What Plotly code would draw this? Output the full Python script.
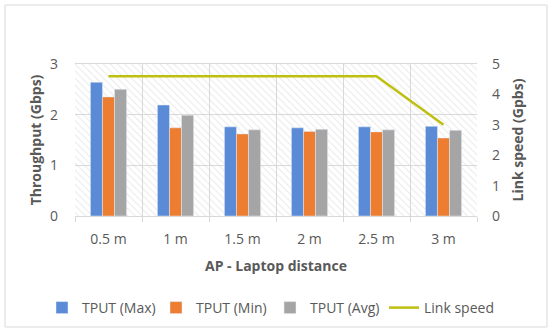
import plotly.graph_objects as go

categories = ["0.5 m", "1 m", "1.5 m", "2 m", "2.5 m", "3 m"]
tput_max = [2.64, 2.19, 1.76, 1.74, 1.76, 1.77]
tput_min = [2.35, 1.74, 1.62, 1.67, 1.66, 1.54]
tput_avg = [2.50, 1.99, 1.70, 1.71, 1.70, 1.69]
link_speed = [4.6, 4.6, 4.6, 4.6, 4.6, 3.0]

W, H = 550, 334
L, R, T, B = 75, 73, 64, 118
pw, ph = W - L - R, H - T - B

FONT = "Open Sans"
GRAY_TXT = "#595959"
GRID = "#d9d9d9"

fig = go.Figure()

# hatched plot-area background (base subplot, hidden axes)
fig.add_trace(go.Bar(
    x=[0.5], y=[1], width=[1], xaxis="x", yaxis="y",
    marker=dict(color="rgba(0,0,0,0)", line=dict(width=0),
                pattern=dict(shape="\\", fgcolor="#cfcfcf", bgcolor="rgba(0,0,0,0)",
                             size=5, solidity=0.18)),
    showlegend=False, hoverinfo="skip"))

fig.add_trace(go.Bar(x=categories, y=tput_max, name="TPUT (Max)", marker_color="#5B8BD6",
                     xaxis="x2", yaxis="y2"))
fig.add_trace(go.Bar(x=categories, y=tput_min, name="TPUT (Min)", marker_color="#ED7D31",
                     xaxis="x2", yaxis="y2"))
fig.add_trace(go.Bar(x=categories, y=tput_avg, name="TPUT (Avg)", marker_color="#A5A5A5",
                     xaxis="x2", yaxis="y2"))
fig.add_trace(go.Scatter(x=categories, y=link_speed, name="Link speed", mode="lines",
                         line=dict(color="#BFBF10", width=2.5), xaxis="x2", yaxis="y3"))

# outer chart border in paper coords
def px_x(p):
    return (p - L) / pw
def px_y(p):
    return (H - B - p) / ph

fig.update_layout(
    width=W, height=H,
    margin=dict(l=L, r=R, t=T, b=B, autoexpand=False),
    paper_bgcolor="white", plot_bgcolor="white",
    font=dict(family=FONT, size=14, color=GRAY_TXT),
    barmode="group", bargap=0.46, bargroupgap=0,
    showlegend=True,
    legend=dict(orientation="h", xref="paper", x=px_x(42), xanchor="left",
                yref="paper", y=px_y(308), yanchor="middle",
                font=dict(size=14, color=GRAY_TXT),
                traceorder="normal", itemwidth=30,
                entrywidth=69, entrywidthmode="pixels"),
    xaxis=dict(range=[0, 1], visible=False, fixedrange=True),
    yaxis=dict(range=[0, 1], visible=False, fixedrange=True),
    xaxis2=dict(overlaying="x", type="category", tickson="boundaries",
                showgrid=True, gridcolor=GRID, gridwidth=1,
                ticks="outside", ticklen=5, tickcolor=GRID,
                showline=True, linecolor=GRID, mirror=True, tickangle=0,
                tickfont=dict(size=14, color=GRAY_TXT), ticklabelstandoff=10,
                title=dict(text="<b>AP - Laptop distance</b>", standoff=14,
                           font=dict(size=14, color=GRAY_TXT))),
    yaxis2=dict(overlaying="y", side="left", range=[0, 3], dtick=1,
                showgrid=True, gridcolor=GRID, zeroline=False,
                showline=False, tickfont=dict(size=14, color=GRAY_TXT),
                ticks="", ticklabelstandoff=16,
                title=dict(text="<b>Throughput (Gbps)</b>", standoff=5,
                           font=dict(size=14, color=GRAY_TXT))),
    yaxis3=dict(overlaying="y", side="right", range=[0, 5], dtick=1,
                showgrid=False, zeroline=False, showline=False,
                tickfont=dict(size=14, color=GRAY_TXT), ticklabelstandoff=14,
                title=dict(text="<b>Link speed (Gpbs)</b>", standoff=14,
                           font=dict(size=14, color=GRAY_TXT))),
    shapes=[dict(type="rect", xref="paper", yref="paper",
                 x0=px_x(5), x1=px_x(547), y0=px_y(327), y1=px_y(5),
                 line=dict(color=GRID, width=1), fillcolor="rgba(0,0,0,0)", layer="below")],
)

fig.write_html("out.html", config={"displayModeBar": False},
               post_script="document.body.style.margin='0px';")
